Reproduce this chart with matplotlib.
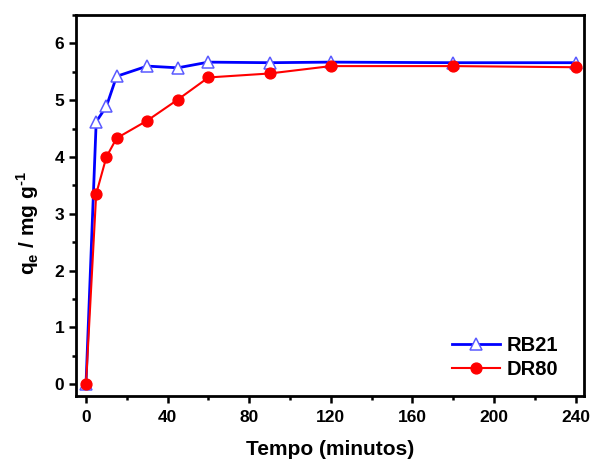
import matplotlib
matplotlib.use("Agg")
import matplotlib.pyplot as plt
from matplotlib.ticker import MultipleLocator

plt.rcParams['font.family'] = ['Liberation Sans', 'DejaVu Sans']
plt.rcParams['font.weight'] = 'bold'
plt.rcParams['mathtext.fontset'] = 'custom'
plt.rcParams['mathtext.bf'] = 'Liberation Sans:bold'
plt.rcParams['mathtext.rm'] = 'Liberation Sans:bold'

tempo = [0, 5, 10, 15, 30, 45, 60, 90, 120, 180, 240]
rb21 = [0, 4.62, 4.89, 5.42, 5.60, 5.57, 5.67, 5.66, 5.67, 5.66, 5.66]
dr80 = [0, 3.35, 4.00, 4.33, 4.64, 5.01, 5.40, 5.47, 5.60, 5.60, 5.58]

fig = plt.figure(figsize=(5.9, 4.59), dpi=100)
L, R, B, T = 76, 584, 396, 15
W, H = 590, 459
ax = fig.add_axes([L / W, (H - B) / H, (R - L) / W, (B - T) / H])

ax.plot(tempo, rb21, color='#0000ff', lw=2.0, marker='^', markersize=8.5,
        markerfacecolor='white', markeredgecolor='#5a5aff', markeredgewidth=1.1,
        label='RB21', zorder=3)
ax.plot(tempo, dr80, color='#ff0000', lw=1.5, marker='o', markersize=7.8,
        markerfacecolor='#ff0000', markeredgecolor='#ff0000',
        label='DR80', zorder=4)

ax.set_xlim(-4.9, 244.1)
ax.set_ylim(-0.21, 6.5)
ax.xaxis.set_major_locator(MultipleLocator(40))
ax.xaxis.set_minor_locator(MultipleLocator(20))
ax.yaxis.set_major_locator(MultipleLocator(1))
ax.yaxis.set_minor_locator(MultipleLocator(0.5))

for s in ax.spines.values():
    s.set_linewidth(2)
ax.tick_params(which='both', direction='out', width=1.8, top=False, right=False)
ax.tick_params(which='major', length=5, labelsize=12.5)
ax.tick_params(which='minor', length=3)
ax.tick_params(axis='x', which='major', pad=5)
ax.tick_params(axis='y', which='major', pad=3.5)
for lab in ax.get_xticklabels() + ax.get_yticklabels():
    lab.set_fontweight('bold')

ax.set_xlabel('Tempo (minutos)', fontsize=15, fontweight='bold')
ax.xaxis.set_label_coords(0.5, -0.115)
ax.set_ylabel(r'q$_\mathregular{e}$ / mg g$^\mathregular{\text{-}1}$', fontsize=15, fontweight='bold')
ax.yaxis.set_label_coords(-0.068, 0.454)

leg = fig.legend(handles=ax.get_lines(), loc='center left', frameon=False, fontsize=14.5,
                 handlelength=2.4, borderpad=0, borderaxespad=0, labelspacing=0.25,
                 handletextpad=0.3,
                 bbox_to_anchor=(452 / W, (H - 357.5) / H), bbox_transform=fig.transFigure)
for t in leg.get_texts():
    t.set_fontweight('bold')

fig.savefig('out.png', dpi=100)
